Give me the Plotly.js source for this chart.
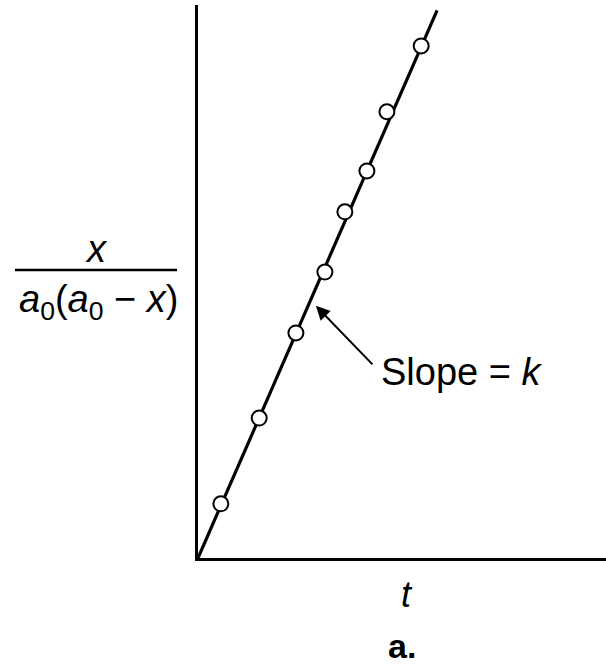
<!DOCTYPE html>
<html>
<head>
<meta charset="utf-8">
<script src="https://cdn.plot.ly/plotly-3.0.1.min.js"></script>
<style>
  html, body { margin: 0; padding: 0; background: #fff; }
  #chart { width: 606px; height: 668px; }
</style>
</head>
<body>
<div id="chart"></div>
<script>
// Measured times and the plotted quantity x / (a0 (a0 - x))
const t = [0.56, 1.50, 2.40, 3.11, 3.60, 4.14, 4.63, 5.47];
const yVal = [0.98, 2.53, 4.07, 5.17, 6.26, 7.00, 8.07, 9.26];

// Straight-line fit through the origin; its slope is the rate constant k
const k = 1.69;
const fitT = [0, 5.86];
const fitY = fitT.map(v => k * v);

const FONT = 'Liberation Sans, Arial, Helvetica, sans-serif';

const traces = [
  {
    x: fitT, y: fitY, mode: 'lines', type: 'scatter',
    line: { color: '#000', width: 3.2 }, hoverinfo: 'skip', cliponaxis: false
  },
  {
    x: t, y: yVal, mode: 'markers', type: 'scatter',
    marker: { symbol: 'circle', size: 15, color: '#fff', line: { color: '#000', width: 2 } },
    cliponaxis: false
  }
];

const layout = {
  width: 606, height: 668,
  margin: { l: 198, r: 0, t: 5, b: 110 },
  paper_bgcolor: '#fff', plot_bgcolor: '#fff',
  showlegend: false,
  font: { family: FONT, color: '#000' },
  xaxis: {
    range: [0, 10], showline: true, linecolor: '#000', linewidth: 3,
    showgrid: false, zeroline: false, showticklabels: false, ticks: ''
  },
  yaxis: {
    range: [0, 10], showline: true, linecolor: '#000', linewidth: 3,
    showgrid: false, zeroline: false, showticklabels: false, ticks: ''
  },
  shapes: [
    // fraction bar of the y-axis label
    { type: 'line', xref: 'paper', yref: 'paper', layer: 'above',
      x0: -183/408, x1: -21/408, y0: (558-270)/553, y1: (558-270)/553,
      line: { color: '#000', width: 2.5 } }
  ],
  annotations: [
    // y-axis label: numerator and denominator
    { xref: 'paper', yref: 'paper', x: -102/408, y: (558-249)/553,
      text: '<i>x</i>', showarrow: false, font: { size: 38, family: FONT },
      xanchor: 'center', yanchor: 'middle' },
    { xref: 'paper', yref: 'paper', x: -99/408, y: (558-302)/553,
      text: '<i>a</i><sub>0</sub>(<i>a</i><sub>0</sub> \u2212 <i>x</i>)', showarrow: false,
      font: { size: 38, family: FONT }, xanchor: 'center', yanchor: 'middle' },
    // x-axis label
    { xref: 'paper', yref: 'paper', x: 209/408, y: -(594-558)/553,
      text: '<i>t</i>', showarrow: false, font: { size: 36, family: FONT },
      xanchor: 'center', yanchor: 'middle' },
    // panel tag
    { xref: 'paper', yref: 'paper', x: 204/408, y: -(646-558)/553,
      text: '<b>a.</b>', showarrow: false, font: { size: 34, family: FONT },
      xanchor: 'center', yanchor: 'middle' },
    // slope callout arrow
    { x: 2.89, y: 4.56, xref: 'x', yref: 'y', text: '',
      showarrow: true, ax: 58, ay: 60, arrowcolor: '#000',
      arrowwidth: 2, arrowhead: 2, arrowsize: 1.4, standoff: 0 },
    { xref: 'paper', yref: 'paper', x: 181/408, y: (558-372)/553,
      text: 'Slope\u00a0=\u00a0<i>k</i>', showarrow: false,
      font: { size: 38, family: FONT }, xanchor: 'left', yanchor: 'middle' }
  ]
};

Plotly.newPlot('chart', traces, layout, { displayModeBar: false, staticPlot: true });
</script>
</body>
</html>
